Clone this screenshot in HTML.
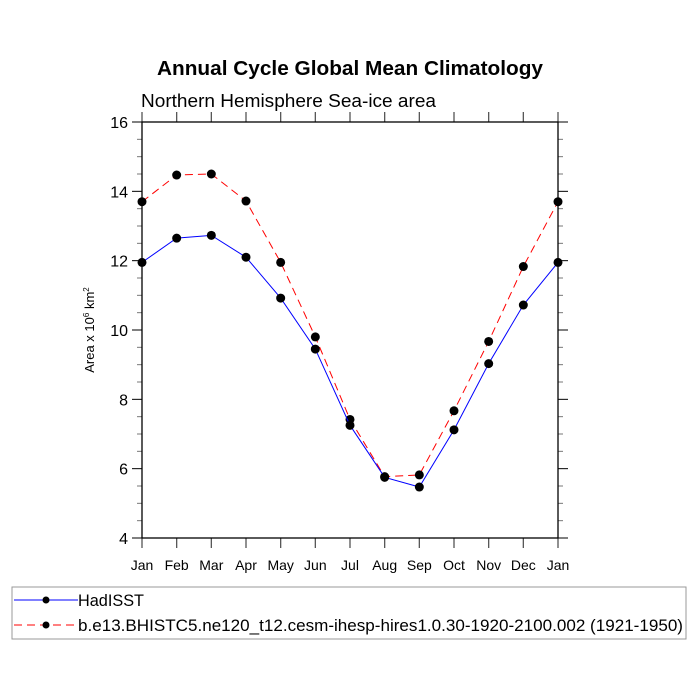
<!DOCTYPE html>
<html><head><meta charset="utf-8"><style>body{margin:0;background:#fff}svg{display:block;font-family:"Liberation Sans",sans-serif}</style></head>
<body>
<svg id="c" width="700" height="700">
<rect width="700" height="700" fill="#fff"/>
<text x="350" y="75" text-anchor="middle" font-size="20" font-weight="bold" textLength="386" lengthAdjust="spacingAndGlyphs">Annual Cycle Global Mean Climatology</text>
<text x="141" y="107" font-size="18" textLength="295" lengthAdjust="spacingAndGlyphs">Northern Hemisphere Sea-ice area</text>
<g id="plot"></g>
<rect x="12" y="587" width="674" height="52" fill="none" stroke="#999"/>
</svg>
<script>
const months=["Jan","Feb","Mar","Apr","May","Jun","Jul","Aug","Sep","Oct","Nov","Dec","Jan"];
const hadisst=[11.95,12.65,12.73,12.1,10.92,9.45,7.25,5.75,5.47,7.12,9.03,10.72,11.95];
const model=[13.7,14.47,14.5,13.72,11.95,9.8,7.42,5.77,5.82,7.67,9.67,11.83,13.7];
const yTicks=[4,6,8,10,12,14,16];
const seriesNames=["HadISST","b.e13.BHISTC5.ne120_t12.cesm-ihesp-hires1.0.30-1920-2100.002 (1921-1950)"];
const legendWidths=[66,605];
const L=142,R=558,T=122,B=538,ymin=4,ymax=16;
const xs=i=>L+(R-L)*i/(months.length-1);
const ys=v=>B-(B-T)*(v-ymin)/(ymax-ymin);
const NS="http://www.w3.org/2000/svg";
const g=document.getElementById('plot');
function mk(t,a,p){const e=document.createElementNS(NS,t);for(const k in a)e.setAttribute(k,a[k]);(p||g).appendChild(e);return e;}
let e;
for(let v=ymin;v<=ymax+1e-9;v+=0.5){const maj=Math.abs(v-Math.round(v/2)*2)<1e-9;const y=ys(v);
 const len=maj?10:5;
 e=mk('line',{x1:L-len,x2:L,y1:y,y2:y,stroke:maj?'#000':'#777','stroke-width':1});
 
 
 e=mk('line',{x1:R,x2:R+len,y1:y,y2:y,stroke:maj?'#000':'#777','stroke-width':1});
 
 }
yTicks.forEach(v=>{e=mk('text',{x:L-14,y:ys(v)+6,'text-anchor':'end','font-size':16});e.textContent=v;
 
 });
months.forEach((m,i)=>{const x=xs(i);
 e=mk('line',{x1:x,x2:x,y1:B,y2:B+10,stroke:'#555','stroke-width':1.3});
 
 
 e=mk('line',{x1:x,x2:x,y1:T-10,y2:T,stroke:'#555','stroke-width':1.3});
 
 
 e=mk('text',{x:x,y:B+32,'text-anchor':'middle','font-size':14});e.textContent=m;
 
 });
e=mk('rect',{x:L,y:T,width:R-L,height:B-T,fill:'none',stroke:'#000','stroke-width':1.3});


e=mk('text',{x:94,y:330,'text-anchor':'middle','font-size':13,transform:'rotate(-90 94 330)'});
e.innerHTML='Area x 10<tspan dy="-5" font-size="8">6</tspan><tspan dy="5"> km</tspan><tspan dy="-5" font-size="8">2</tspan>';


function series(vals,color,dash,name){
 e=mk('polyline',{points:vals.map((v,i)=>xs(i)+','+ys(v)).join(' '),fill:'none',stroke:color,'stroke-width':1,'stroke-dasharray':dash});
 
 
 vals.forEach((v,i)=>{e=mk('circle',{cx:xs(i),cy:ys(v),r:4.5,fill:'#000'});
 
 });
}
series(model,'#f00','8 5','model');
series(hadisst,'#00f','none','hadisst');
[[600,'#00f','none'],[625,'#f00','8 5']].forEach((s,k)=>{
 e=mk('line',{x1:14,x2:78,y1:s[0],y2:s[0],stroke:s[1],'stroke-dasharray':s[2]});
 
 
 e=mk('circle',{cx:46,cy:s[0],r:3.5,fill:'#000'});
 
 
 e=mk('text',{x:78,y:s[0]+6,'font-size':17,textLength:legendWidths[k],lengthAdjust:'spacingAndGlyphs'});e.textContent=seriesNames[k];
 
 
});
</script>
</body></html>
